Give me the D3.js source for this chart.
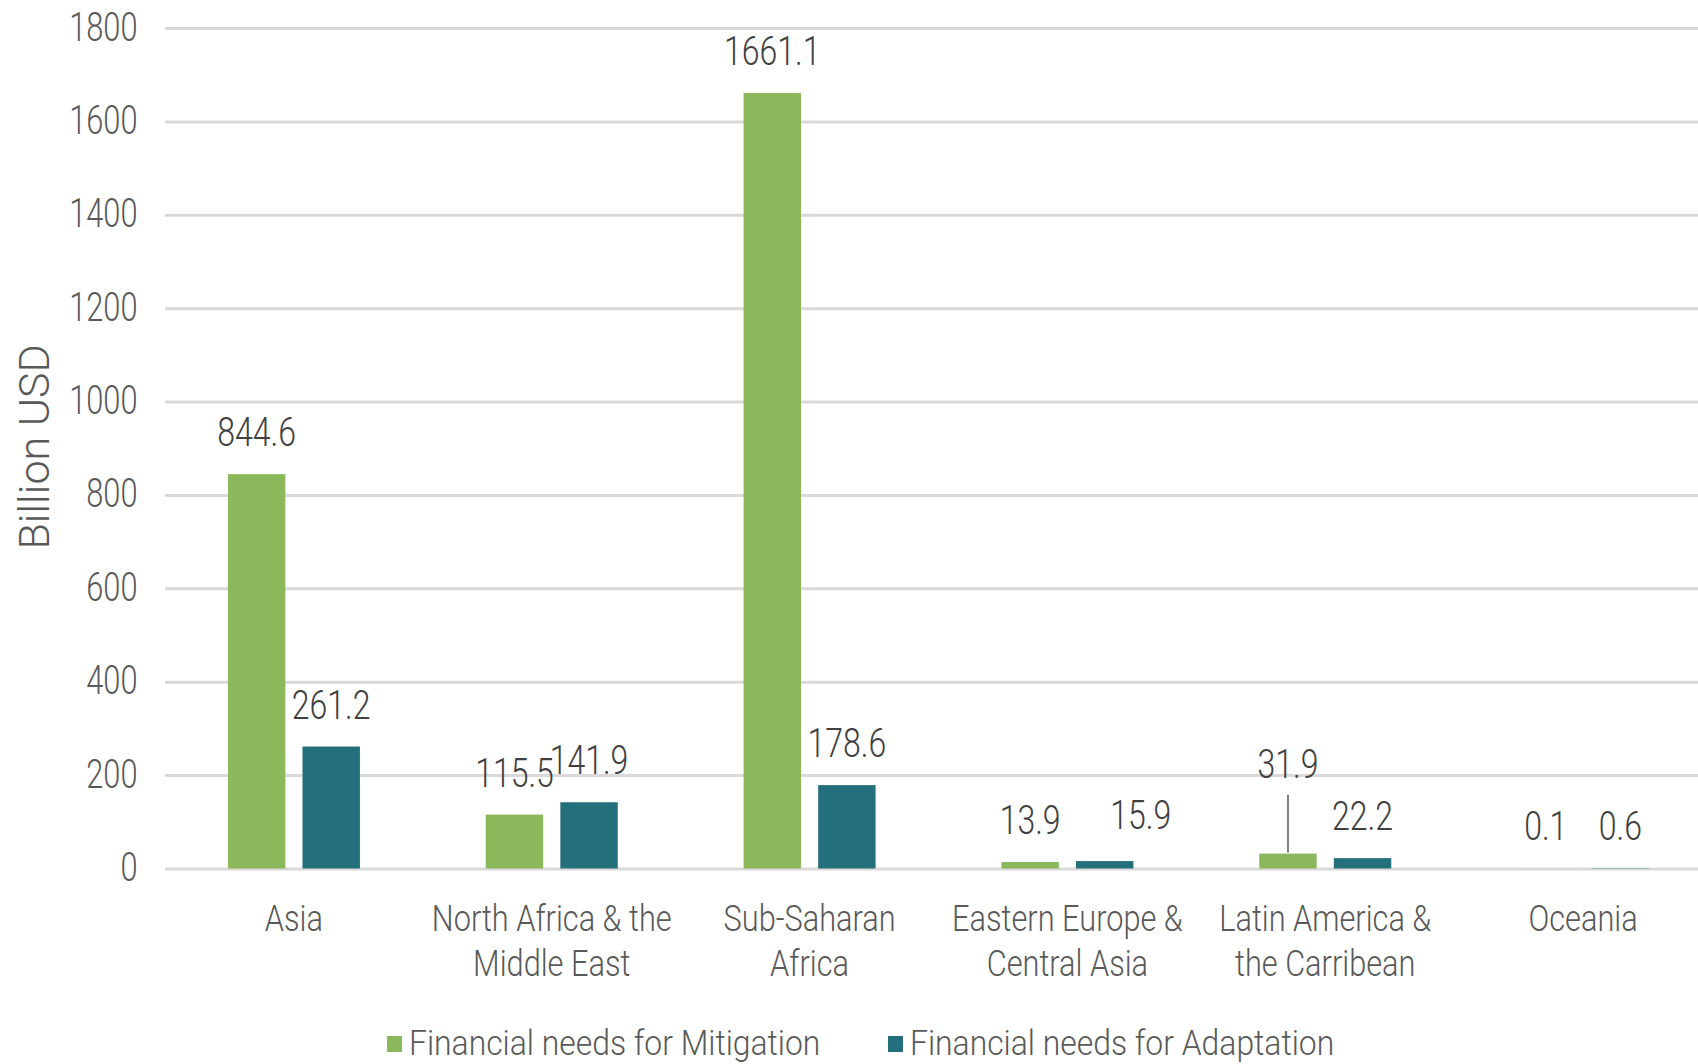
<!DOCTYPE html>
<html>
<head>
<meta charset="utf-8">
<script src="https://cdn.jsdelivr.net/npm/d3@7"></script>
<style>
  html, body { margin: 0; padding: 0; background: #ffffff; }
  svg text { font-family: Roboto, "Liberation Sans", sans-serif; font-weight: 300; }
</style>
</head>
<body>
<svg id="chart" width="1698" height="1064"></svg>
<script>
// Regions (two-line labels split on "|")
const regions = [
  "Asia",
  "North Africa & the|Middle East",
  "Sub-Saharan|Africa",
  "Eastern Europe &|Central Asia",
  "Latin America &|the Carribean",
  "Oceania"
];
const seriesNames = ["Financial needs for Mitigation", "Financial needs for Adaptation"];
const mitigation = [844.6, 115.5, 1661.1, 13.9, 31.9, 0.1];
const adaptation = [261.2, 141.9, 178.6, 15.9, 22.2, 0.6];
const yTicks = [0, 200, 400, 600, 800, 1000, 1200, 1400, 1600, 1800];
const yTitle = "Billion USD";

const colors = ["#8bb85b", "#246f7c"];

const W = 1698, H = 1064;
const margin = { top: 28, bottom: 195.5, left: 165 };
const plotW = 1547;                 // six category bands; the last runs past the right edge
const innerH = H - margin.top - margin.bottom;

// narrow the type horizontally around its anchor x
function squeeze(sel, sx) {
  sel.each(function () {
    const t = d3.select(this);
    const x = +t.attr("x") || 0;
    t.attr("transform", `translate(${x},0) scale(${sx},1) translate(${-x},0)`);
  });
}

const svg = d3.select("#chart");
const g = svg.append("g").attr("transform", `translate(${margin.left},${margin.top})`);

const y = d3.scaleLinear().domain([0, 1800]).range([innerH, 0]);
const x0 = d3.scaleBand().domain(regions).range([0, plotW]).paddingInner(0).paddingOuter(0);
const groupW = x0.bandwidth() * 0.512;
const x1 = d3.scaleBand().domain(seriesNames).range([0, groupW]).paddingInner(0.23).paddingOuter(0);
const groupOffset = (x0.bandwidth() - groupW) / 2;

// gridlines + y tick labels
const yAxis = d3.axisLeft(y).tickValues(yTicks).tickSize(-(W - margin.left)).tickPadding(27.5).tickFormat(d3.format("d"));
const ya = g.append("g").call(yAxis);
ya.select(".domain").remove();
ya.selectAll(".tick line").attr("stroke", "#d9d9d9").attr("stroke-width", 3);
ya.selectAll(".tick text")
  .attr("fill", "#595959")
  .attr("font-size", 40)
  .attr("dy", "0.3em")
  .call(squeeze, 0.77);

// y title
svg.append("text")
  .attr("transform", `translate(49,447) rotate(-90)`)
  .attr("text-anchor", "middle")
  .attr("font-size", 43)
  .attr("fill", "#595959")
  .text(yTitle);

// rows
const rows = regions.map((r, i) => ({ region: r, values: [mitigation[i], adaptation[i]] }));

const groups = g.selectAll(".grp").data(rows).join("g")
  .attr("class", "grp")
  .attr("transform", d => `translate(${x0(d.region) + groupOffset},0)`);

groups.selectAll("rect").data(d => d.values.map((v, k) => ({ k, v }))).join("rect")
  .attr("x", d => x1(seriesNames[d.k]))
  .attr("y", d => y(d.v))
  .attr("width", x1.bandwidth())
  .attr("height", d => innerH - y(d.v))
  .attr("fill", d => colors[d.k]);

// value labels sit above their bars; a few are nudged clear of neighbours,
// and the Latin America mitigation label is lifted with a leader line
const labelGap = 28;
const labelNudges = [
  { region: regions[3], k: 1, dx: 36, dy: -4, leader: false },
  { region: regions[4], k: 0, dx: 0, dy: -48, leader: true }
];

groups.each(function (d) {
  const grp = d3.select(this);
  d.values.forEach((v, k) => {
    const cx = x1(seriesNames[k]) + x1.bandwidth() / 2;
    let lx = cx;
    let base = y(v) - labelGap;
    const nudge = labelNudges.find(n => n.region === d.region && n.k === k);
    if (nudge) {
      lx += nudge.dx;
      base += nudge.dy;
      if (nudge.leader) {
        grp.append("line")
          .attr("x1", cx).attr("x2", cx)
          .attr("y1", base + 17).attr("y2", y(v) - 1)
          .attr("stroke", "#7f7f7f").attr("stroke-width", 2);
      }
    }
    grp.append("text")
      .attr("x", lx)
      .attr("y", base)
      .attr("text-anchor", "middle")
      .attr("font-size", 40)
      .attr("fill", "#404040")
      .text(v.toFixed(1))
      .call(squeeze, 0.8);
  });
});

// category labels
const xa = g.append("g").attr("transform", `translate(0,${innerH})`);
regions.forEach(r => {
  const cx = x0(r) + x0.bandwidth() / 2;
  const t = xa.append("text")
    .attr("x", cx)
    .attr("y", 62.5)
    .attr("text-anchor", "middle")
    .attr("font-size", 37)
    .attr("fill", "#595959");
  r.split("|").forEach((ln, i) => {
    t.append("tspan").attr("x", cx).attr("dy", i === 0 ? 0 : 45).text(ln);
  });
  squeeze(t, 0.83);
});

// legend
const legendX = [387, 888];
const legend = svg.append("g");
seriesNames.forEach((s, k) => {
  legend.append("rect")
    .attr("x", legendX[k]).attr("y", 1036)
    .attr("width", 15).attr("height", 16)
    .attr("fill", colors[k]);
  legend.append("text")
    .attr("x", legendX[k] + 22).attr("y", 1055)
    .attr("font-size", 36)
    .attr("fill", "#595959")
    .text(s)
    .call(squeeze, 0.885);
});
</script>
</body>
</html>
